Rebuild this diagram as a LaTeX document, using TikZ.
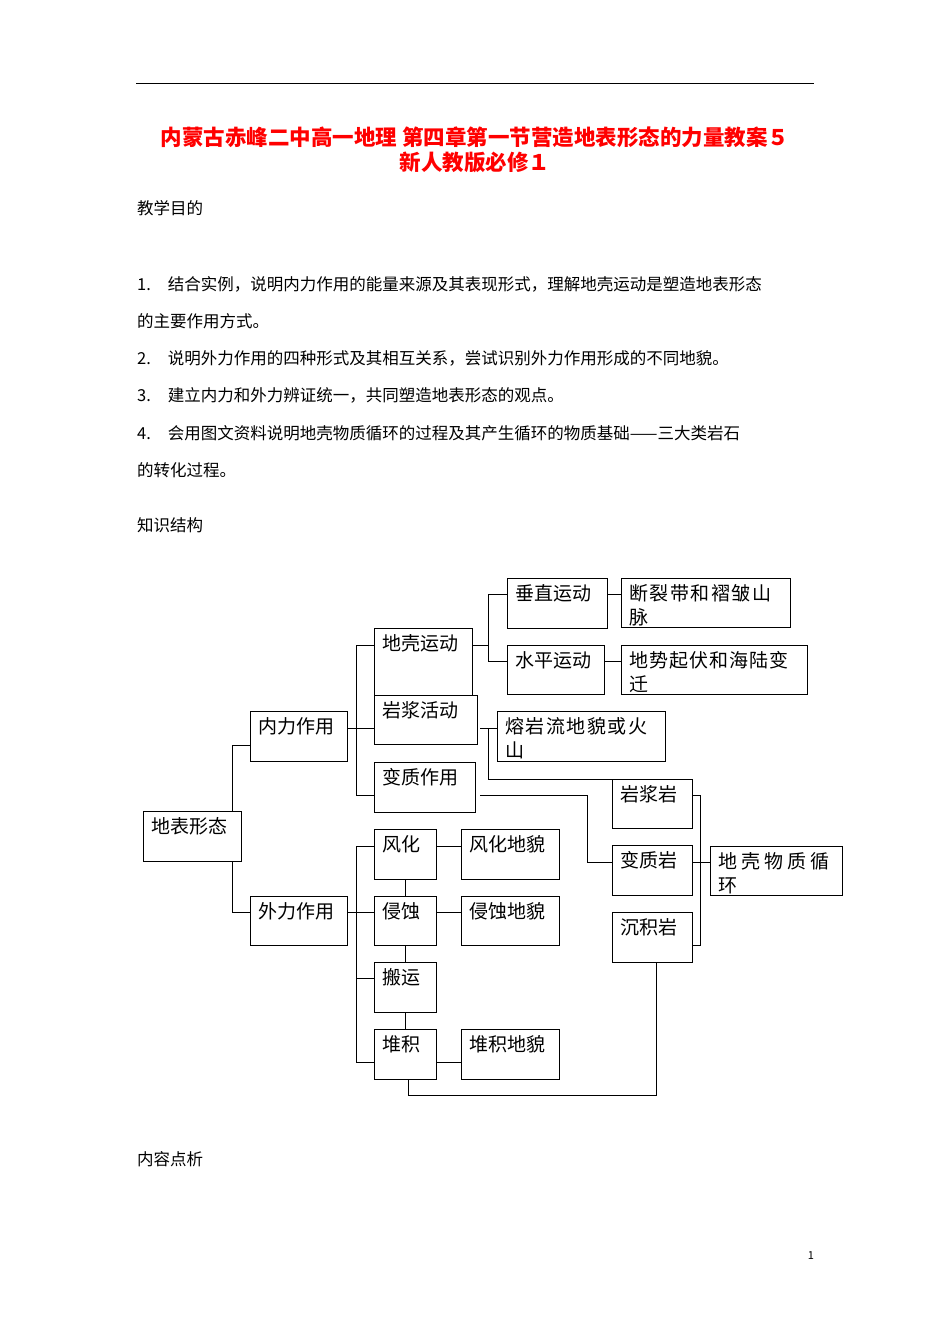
\documentclass[tikz,border=0pt]{standalone}
\usepackage{fontspec}
\setmainfont{Noto Sans CJK SC}
\begin{document}
\begin{tikzpicture}[x=1pt,y=-1pt,
 bx/.style={draw,anchor=north west,inner sep=0pt,line width=0.8pt},
 lb/.style={anchor=north west,inner sep=0pt,xshift=8pt,yshift=-6pt,align=left,font=\fontsize{19}{24}\selectfont},
 ln/.style={line width=0.8pt},
 bt/.style={anchor=west,inner sep=0pt,font=\fontsize{16.5}{20}\selectfont}]
\useasboundingbox (0,0) rectangle (950,1344);
\draw[line width=0.8pt] (136,83) -- (814,83);
\node[inner sep=0pt,text=red,font=\fontsize{21.5}{25}\bfseries\selectfont,align=center] (title) at (475,150) {内蒙古赤峰二中高一地理 第四章第一节营造地表形态的力量教案５\\新人教版必修１};
\node[bt] (t1) at (137,208) {教学目的};
\node[bt] (t2) at (137,284) {1.\hspace{17pt}结合实例，说明内力作用的能量来源及其表现形式，理解地壳运动是塑造地表形态};
\node[bt] (t3) at (137,321) {的主要作用方式。};
\node[bt] (t4) at (137,358) {2.\hspace{17pt}说明外力作用的四种形式及其相互关系，尝试识别外力作用形成的不同地貌。};
\node[bt] (t5) at (137,395) {3.\hspace{17pt}建立内力和外力辨证统一，共同塑造地表形态的观点。};
\node[bt] (t6) at (137,433) {4.\hspace{17pt}会用图文资料说明地壳物质循环的过程及其产生循环的物质基础——三大类岩石};
\node[bt] (t7) at (137,470) {的转化过程。};
\node[bt] (t8) at (137,525) {知识结构};
\node[bt] (t9) at (137,1159) {内容点析};
\node[inner sep=0pt,font=\fontsize{11}{13}\selectfont] (pn) at (811,1256) {1};
% boxes
\newcommand{\bxx}[6]{\node[bx,minimum width=#3pt,minimum height=#4pt,label={[lb]north west:#6}] (#5) at (#1,#2) {};}
\bxx{143}{811}{98}{50}{dbxt}{地表形态}
\bxx{250}{711}{97}{50}{nl}{内力作用}
\bxx{250}{896}{97}{49}{wl}{外力作用}
\bxx{374}{628}{98}{67}{dqyd}{地壳运动}
\bxx{374}{695}{103}{49}{yjhd}{岩浆活动}
\bxx{374}{762}{101}{50}{bzzy}{变质作用}
\bxx{507}{578}{100}{50}{czyd}{垂直运动}
\bxx{507}{645}{97}{49}{spyd}{水平运动}
\bxx{621}{578}{169}{49}{dld}{断\hspace{1.5pt}裂\hspace{1.5pt}带\hspace{1.5pt}和\hspace{1.5pt}褶\hspace{1.5pt}皱\hspace{1.5pt}山\\脉}
\bxx{621}{645}{186}{49}{dsqf}{地\hspace{1pt}势\hspace{1pt}起\hspace{1pt}伏\hspace{1pt}和\hspace{1pt}海\hspace{1pt}陆\hspace{1pt}变\\迁}
\bxx{497}{711}{168}{50}{ryl}{熔\hspace{1.5pt}岩\hspace{1.5pt}流\hspace{1.5pt}地\hspace{1.5pt}貌\hspace{1.5pt}或\hspace{1.5pt}火\\山}
\bxx{612}{779}{80}{49}{yjy}{岩浆岩}
\bxx{612}{845}{80}{50}{bzy}{变质岩}
\bxx{612}{912}{80}{50}{cjy}{沉积岩}
\bxx{710}{846}{132}{49}{dqwz}{地\hspace{4pt}壳\hspace{4pt}物\hspace{4pt}质\hspace{4pt}循\\环}
\bxx{374}{829}{62}{50}{fh}{风化}
\bxx{461}{829}{98}{50}{fhdm}{风化地貌}
\bxx{374}{896}{62}{49}{qs}{侵蚀}
\bxx{461}{896}{98}{49}{qsdm}{侵蚀地貌}
\bxx{374}{962}{62}{50}{by}{搬运}
\bxx{374}{1029}{62}{50}{dj}{堆积}
\bxx{461}{1029}{98}{50}{djdm}{堆积地貌}
% connectors
\draw[ln] (dbxt.north -| 232,0) |- (nl.west |- 0,745);
\draw[ln] (dbxt.south -| 232,0) |- (wl.west |- 0,912);
\draw[ln] (nl.east |- 0,728) -- (356,728);
\draw[ln] (dqyd.west |- 0,645) -| (356,795) -- (bzzy.west |- 0,795);
\draw[ln] (356,728) -- (yjhd.west |- 0,728);
\draw[ln] (dqyd.east |- 0,645) -- (488,645);
\draw[ln] (czyd.west |- 0,594) -| (488,661) -- (spyd.west |- 0,661);
\draw[ln] (czyd.east |- 0,594) -- (dld.west |- 0,594);
\draw[ln] (spyd.east |- 0,661) -- (dsqf.west |- 0,661);
\draw[ln] (480,728) -- (ryl.west |- 0,728);
\draw[ln] (488,728) |- (yjy.north west);
\draw[ln] (480,795) -| (587,862) -- (bzy.west |- 0,862);
\draw[ln] (yjy.east |- 0,795) -| (700,945) -- (cjy.east |- 0,945);
\draw[ln] (bzy.east |- 0,862) -- (dqwz.west |- 0,862);
\draw[ln] (wl.east |- 0,912) -- (356,912);
\draw[ln] (fh.west |- 0,846) -| (356,1062) -- (dj.west |- 0,1062);
\draw[ln] (356,912) -- (qs.west |- 0,912);
\draw[ln] (356,978) -- (by.west |- 0,978);
\draw[ln] (fh.south -| 405,0) -- (qs.north -| 405,0);
\draw[ln] (qs.south -| 405,0) -- (by.north -| 405,0);
\draw[ln] (by.south -| 405,0) -- (dj.north -| 405,0);
\draw[ln] (fh.east |- 0,846) -- (fhdm.west |- 0,846);
\draw[ln] (qs.east |- 0,912) -- (qsdm.west |- 0,912);
\draw[ln] (dj.east |- 0,1062) -- (djdm.west |- 0,1062);
\draw[ln] (dj.south -| 408,0) |- (656,1095) -- (cjy.south -| 656,0);
\end{tikzpicture}
\end{document}
